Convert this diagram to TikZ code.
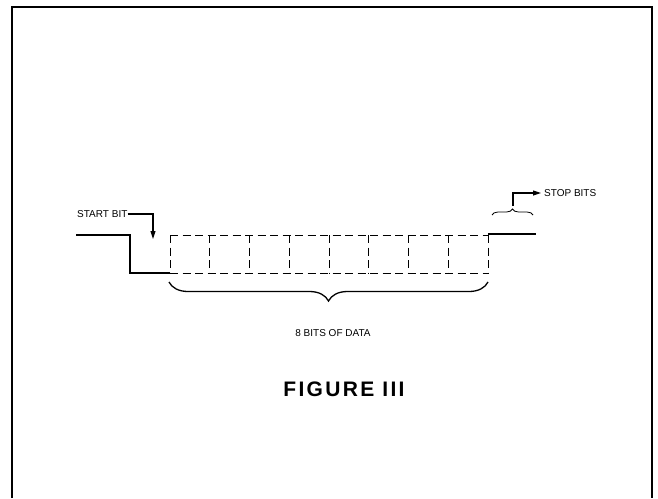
\documentclass[tikz,border=0pt]{standalone}
\usepackage{fontspec}
\setmainfont{Liberation Sans}
\usetikzlibrary{decorations.pathreplacing,arrows.meta}
\newcommand{\lsp}{\kern2.3pt}
\begin{document}
\begin{tikzpicture}[x=1pt,y=-1pt,
  sig/.style={line width=1.2pt},
  dsh/.style={line width=1pt, dash pattern=on 8pt off 4.5pt},
  lbl/.style={font=\fontsize{10}{12}\selectfont, inner sep=0pt},
  arr/.style={line width=1.1pt, -{Triangle[length=8pt,width=5pt]}}]
\useasboundingbox (0,0) rectangle (658,498);
% frame
\draw[line width=1.6pt] (12,498) -- (12,7) -- (652,7) -- (652,498);
% signal
\coordinate (s0) at (76,235);
\coordinate (s1) at (130,235);
\coordinate (s2) at (130,273);
\coordinate (d0) at (170,273);
\coordinate (d1) at (488,273);
\coordinate (t0) at (170,235);
\coordinate (t1) at (488,235);
\coordinate (e1) at (536,234);
\draw[sig] (s0) -- (s1) -- (s2) -- (d0);
\draw[dsh] (d0) -- (d1);
\draw[dsh] (t0) -- (t1);
\foreach \i in {0,...,8} {
  \coordinate (v\i a) at ({170+\i*39.75},235);
  \coordinate (v\i b) at ({170+\i*39.75},273);
  \draw[dsh] (v\i a) -- (v\i b);
}
\draw[sig] (t1) ++(0,-1) coordinate (t1u) -- (e1);
% start bit
\node[lbl, anchor=west] (start) at (77,214) {START BIT};
\coordinate (sa) at (153,214);
\coordinate (sb) at (153,239);
\draw[arr] (start.east) -- (sa) -- (sb);
% stop bits
\coordinate (b0) at (492,215);
\coordinate (b1) at (533,215);
\draw[line width=0.8pt, decorate, decoration={brace, amplitude=6pt}] (b0) -- (b1);
\node[lbl, anchor=west] (stop) at (544,193) {STOP BITS};
\coordinate (pa) at (513,206);
\coordinate (pb) at (513,193);
\draw[arr, shorten >=3pt] (pa) -- (pb) -- (stop.west);
% big brace
\coordinate (g0) at (169,282);
\coordinate (g1) at (488,282);
\draw[line width=1.3pt, decorate, decoration={brace, amplitude=19pt, mirror}] (g0) -- (g1);
\node[lbl] (data) at (333,333) {8 BITS OF DATA};
% title
\node[inner sep=0pt, font=\bfseries\fontsize{21}{24}\selectfont] (fig) at (344,389) {F\lsp I\lsp G\lsp U\lsp R\lsp E\lsp\ I\lsp I\lsp I};
\end{tikzpicture}
\end{document}
